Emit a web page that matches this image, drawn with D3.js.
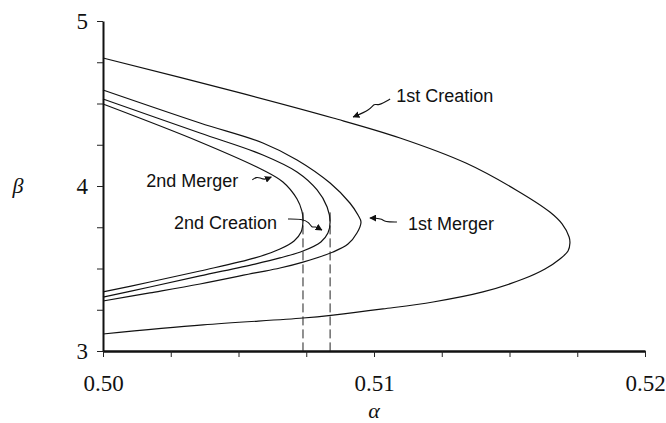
<!DOCTYPE html>
<html>
<head>
<meta charset="utf-8">
<script src="https://cdn.jsdelivr.net/npm/d3@7"></script>
<style>
  body { margin: 0; background: #fff; }
  svg { display: block; }
</style>
</head>
<body>
<svg id="chart" width="666" height="423"></svg>
<script>
// Boundaries in the (alpha, beta) plane, each traced from the upper branch
// at alpha = 0.50, round its turning point, back along the lower branch.
const creation1Alpha = [0.5000, 0.50506, 0.50849, 0.51096, 0.51339, 0.51524, 0.51649, 0.51694, 0.51720, 0.51723,
                        0.51716, 0.51686, 0.51631, 0.51550, 0.51402, 0.51218, 0.51033, 0.50849, 0.50738, 0.50369, 0.5000];
const creation1Beta  = [4.776, 4.564, 4.412, 4.291, 4.139, 3.976, 3.842, 3.770, 3.691, 3.655,
                        3.606, 3.558, 3.497, 3.436, 3.358, 3.297, 3.255, 3.218, 3.200, 3.158, 3.103];

const merger1Alpha = [0.5000, 0.50358, 0.50590, 0.50716, 0.50838, 0.50911, 0.50941, 0.50952,
                      0.50937, 0.50904, 0.50849, 0.50738, 0.50653, 0.50561, 0.50358, 0.50173, 0.5000];
const merger1Beta  = [4.582, 4.382, 4.261, 4.158, 4.018, 3.897, 3.824, 3.782,
                      3.715, 3.648, 3.600, 3.539, 3.503, 3.473, 3.406, 3.352, 3.303];

const creation2Alpha = [0.5000, 0.50358, 0.50590, 0.50716, 0.50790, 0.50827, 0.50838,
                        0.50830, 0.50804, 0.50738, 0.50653, 0.50561, 0.50358, 0.50173, 0.5000];
const creation2Beta  = [4.527, 4.321, 4.188, 4.085, 3.976, 3.873, 3.782,
                        3.715, 3.661, 3.606, 3.564, 3.527, 3.455, 3.388, 3.327];

const merger2Alpha = [0.5000, 0.50358, 0.50590, 0.50664, 0.50716, 0.50734, 0.50738,
                      0.50731, 0.50705, 0.50653, 0.50561, 0.50358, 0.50173, 0.5000];
const merger2Beta  = [4.497, 4.267, 4.097, 4.024, 3.921, 3.848, 3.794,
                      3.721, 3.667, 3.618, 3.564, 3.485, 3.418, 3.358];

// turning points of the two inner boundaries, dropped to the alpha axis
const turnAlpha = [0.50738, 0.50838];
const turnBeta  = [3.84, 3.84];

// axis ticks
const alphaTickLabels = [0.50, 0.51, 0.52];
const betaTickLabels  = [3, 4, 5];

// annotation labels and the point on each boundary they point to
const noteText  = ["1st Creation", "2nd Merger", "2nd Creation", "1st Merger"];
const noteAlpha = [0.50923, 0.50621, 0.50808, 0.50985];
const noteBeta  = [4.418, 4.055, 3.733, 3.806];

const svg = d3.select("#chart");
const x = d3.scaleLinear().domain([0.50, 0.52]).range([103, 645]);
const y = d3.scaleLinear().domain([3, 5]).range([351, 21]);

const serif = "'Liberation Serif', 'Times New Roman', serif";
const sans  = "'Liberation Sans', Arial, Helvetica, sans-serif";

// ---- axes ----
const yAxis = d3.axisLeft(y)
  .tickValues(d3.range(3, 5.0001, 0.25))
  .tickFormat(d => betaTickLabels.includes(+d.toFixed(2)) ? d3.format("d")(d) : "")
  .tickSize(6).tickSizeOuter(0).tickPadding(9);

const xAxis = d3.axisBottom(x)
  .tickValues(d3.range(0.50, 0.52001, 0.0025))
  .tickFormat(d => alphaTickLabels.some(v => Math.abs(v - d) < 1e-6) ? d3.format(".2f")(d) : "")
  .tickSize(6).tickSizeOuter(0).tickPadding(18);

const gy = svg.append("g").attr("transform", `translate(${x(0.50)},0)`).call(yAxis);
const gx = svg.append("g").attr("transform", `translate(0,${y(3)})`).call(xAxis);

[gx, gy].forEach(g => {
  g.select(".domain").attr("stroke", "#111");
  g.selectAll(".tick line").attr("stroke", "#222").attr("stroke-width", 1);
  g.selectAll(".tick text")
    .attr("fill", "#111")
    .style("font-family", serif)
    .style("font-size", "23px");
});
gy.select(".domain").attr("stroke-width", 2);
gx.select(".domain").attr("stroke-width", 2.5);

// axis titles
svg.append("text")
  .attr("x", 18).attr("y", 193)
  .attr("text-anchor", "middle")
  .style("font-family", serif).style("font-style", "italic").style("font-size", "22px")
  .attr("fill", "#111")
  .text("β");

svg.append("text")
  .attr("x", (x(0.50) + x(0.52)) / 2).attr("y", 418)
  .attr("text-anchor", "middle")
  .style("font-family", serif).style("font-style", "italic").style("font-size", "22px")
  .attr("fill", "#111")
  .text("α");

// ---- boundaries ----
const curves = [
  [creation1Alpha, creation1Beta],
  [merger1Alpha, merger1Beta],
  [creation2Alpha, creation2Beta],
  [merger2Alpha, merger2Beta]
];

// centripetal Catmull-Rom copes with the uneven spacing round the turning points
const line = d3.line()
  .x(d => x(d[0]))
  .y(d => y(d[1]))
  .curve(d3.curveCatmullRom.alpha(0.5));

svg.append("g")
  .selectAll("path")
  .data(curves)
  .join("path")
  .attr("d", ([a, b]) => line(a.map((v, i) => [v, b[i]])))
  .attr("fill", "none")
  .attr("stroke", "#111")
  .attr("stroke-width", 1.2);

// dashed drop lines from the inner turning points
svg.append("g")
  .selectAll("line")
  .data(turnAlpha.map((a, i) => [a, turnBeta[i]]))
  .join("line")
  .attr("x1", d => x(d[0])).attr("x2", d => x(d[0]))
  .attr("y1", d => y(d[1])).attr("y2", y(3))
  .attr("stroke", "#222")
  .attr("stroke-width", 1)
  .attr("stroke-dasharray", "9,4");

// ---- annotations ----
svg.append("defs").append("marker")
  .attr("id", "head")
  .attr("viewBox", "0 0 10 10")
  .attr("refX", 9).attr("refY", 5)
  .attr("markerWidth", 7).attr("markerHeight", 7)
  .attr("markerUnits", "userSpaceOnUse")
  .attr("orient", "auto")
  .append("path")
  .attr("d", "M0,0 L10,5 L0,10 Z")
  .attr("fill", "#111");

// leader shapes (tail to head, pixel offsets from the pointed-at spot) and label placement
const noteLayout = [
  { path: [[37, -18], [25, -11], [21, -14], [17, -7], [0, 0]], tx: 43, ty: -15, anchor: "start" },
  { path: [[-19, 3], [-15, 0], [-11, 1], [-7, 3], [0, 0]], tx: -33, ty: 10, anchor: "end" },
  { path: [[-34, -11], [-20, -11], [-13, -8], [-10, -2], [-7, -4], [0, 0]], tx: -45, ty: -1, anchor: "end" },
  { path: [[27, 4], [15, 4], [12, 1], [6, 0], [0, 0]], tx: 38, ty: 12, anchor: "start" }
];

const leader = d3.line().curve(d3.curveBasis);

const notes = svg.append("g")
  .selectAll("g")
  .data(noteText.map((t, i) => ({ t, a: noteAlpha[i], b: noteBeta[i], L: noteLayout[i] })))
  .join("g")
  .attr("transform", d => `translate(${x(d.a)},${y(d.b)})`);

notes.append("path")
  .attr("d", d => leader(d.L.path))
  .attr("fill", "none")
  .attr("stroke", "#111")
  .attr("stroke-width", 1.1)
  .attr("marker-end", "url(#head)");

notes.append("text")
  .attr("x", d => d.L.tx).attr("y", d => d.L.ty)
  .attr("text-anchor", d => d.L.anchor)
  .style("font-family", sans).style("font-size", "18px")
  .attr("fill", "#111")
  .text(d => d.t);
</script>
</body>
</html>
